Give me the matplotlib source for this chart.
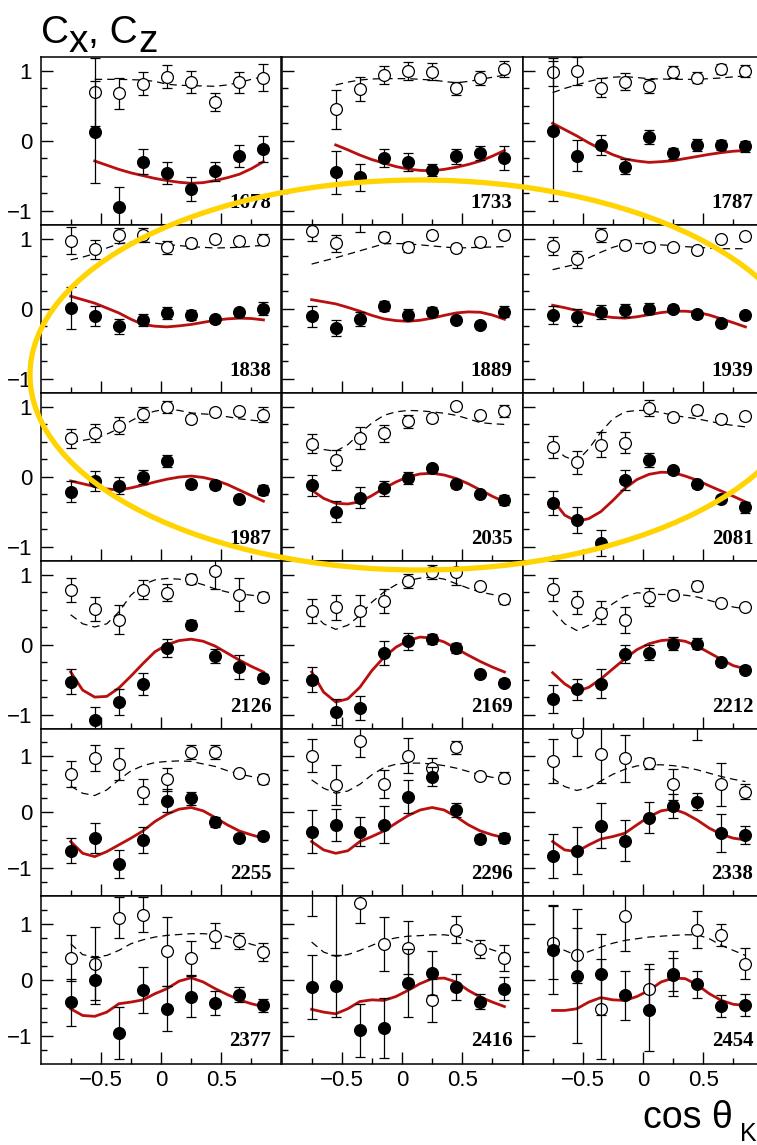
import numpy as np
import matplotlib.pyplot as plt
from matplotlib.patches import Ellipse

plt.rcParams['font.family'] = ['Liberation Sans', 'DejaVu Sans']

nan = np.nan

# W (MeV) of each panel, row by row
energies = [1678, 1733, 1787, 1838, 1889, 1939, 1987, 2035, 2081,
            2126, 2169, 2212, 2255, 2296, 2338, 2377, 2416, 2454]

# cos theta_K bins of the data and the points where the model curves were read
cos_k = [-0.75, -0.55, -0.35, -0.15, 0.05, 0.25, 0.45, 0.65, 0.85]
cos_fine = [-0.75, -0.65, -0.55, -0.45, -0.35, -0.25, -0.15, -0.05, 0.05,
            0.15, 0.25, 0.35, 0.45, 0.55, 0.65, 0.75, 0.85]

# Cz (open circles)
cz_val = [
    [nan, 0.70, 0.68, 0.82, 0.92, 0.845, 0.56, 0.835, 0.905],
    [nan, 0.45, 0.74, 0.94, 1.0, 0.99, 0.75, 0.90, 1.03],
    [0.99, 1.0, 0.76, 0.845, 0.78, 0.99, 0.905, 1.03, 1.0],
    [0.975, 0.85, 1.05, 1.06, 0.88, 0.94, 1.0, 0.975, 0.99],
    [1.11, 0.94, 1.3, 1.03, 0.88, 1.06, 0.87, 0.95, 1.06],
    [0.905, 0.71, 1.06, 0.92, 0.89, 0.88, 0.84, 1.0, 1.04],
    [0.55, 0.63, 0.73, 0.895, 1.0, 0.825, 0.93, 0.94, 0.89],
    [0.475, 0.24, 0.555, 0.62, 0.795, 0.84, 1.01, 0.88, 0.94],
    [0.43, 0.205, 0.46, 0.49, 0.985, 0.855, 0.95, 0.83, 0.87],
    [0.78, 0.51, 0.36, 0.79, 0.745, 0.94, 1.06, 0.72, 0.69],
    [0.48, 0.54, 0.49, 0.625, 0.91, 1.04, 1.04, 0.84, 0.65],
    [0.795, 0.61, 0.46, 0.35, 0.685, 0.72, 0.84, 0.60, 0.54],
    [0.68, 0.97, 0.865, 0.37, 0.59, 1.085, 1.075, 0.70, 0.59],
    [1.015, 0.49, 1.28, 0.51, 1.015, 0.79, 1.16, 0.65, 0.62],
    [0.92, 1.43, 1.04, 0.97, 0.88, 0.5, 1.7, 0.5, 0.37],
    [0.39, 0.29, 1.11, 1.165, 0.51, 0.39, 0.79, 0.69, 0.495],
    [1.65, 1.6, 1.38, 0.645, 0.575, -0.37, 0.895, 0.555, 0.39],
    [0.665, 0.435, -0.52, 1.135, -0.16, 0.11, 0.9, 0.805, 0.285],
]
cz_err = [
    [nan, 0.49, 0.22, 0.17, 0.165, 0.16, 0.13, 0.15, 0.19],
    [nan, 0.28, 0.17, 0.13, 0.13, 0.12, 0.09, 0.10, 0.11],
    [0.2, 0.2, 0.14, 0.12, 0.10, 0.085, 0.08, 0.07, 0.09],
    [0.19, 0.14, 0.11, 0.10, 0.09, 0.065, 0.05, 0.05, 0.08],
    [0.14, 0.12, 0.2, 0.065, 0.07, 0.06, 0.06, 0.05, 0.065],
    [0.13, 0.12, 0.10, 0.07, 0.06, 0.05, 0.05, 0.04, 0.05],
    [0.14, 0.125, 0.12, 0.105, 0.08, 0.05, 0.04, 0.04, 0.105],
    [0.14, 0.14, 0.16, 0.115, 0.095, 0.05, 0.04, 0.045, 0.085],
    [0.16, 0.16, 0.18, 0.145, 0.11, 0.06, 0.06, 0.06, 0.05],
    [0.17, 0.17, 0.21, 0.14, 0.125, 0.07, 0.26, 0.23, 0.06],
    [0.17, 0.18, 0.22, 0.17, 0.10, 0.10, 0.18, 0.05, 0.065],
    [0.165, 0.165, 0.16, 0.185, 0.125, 0.06, 0.07, 0.04, 0.04],
    [0.23, 0.235, 0.28, 0.225, 0.21, 0.125, 0.13, 0.04, 0.09],
    [0.29, 0.365, 0.29, 0.255, 0.31, 0.18, 0.115, 0.06, 0.10],
    [0.4, 0.43, 0.52, 0.42, 0.10, 0.28, 0.4, 0.38, 0.14],
    [0.415, 0.66, 0.37, 0.31, 0.62, 0.3, 0.225, 0.14, 0.16],
    [0.5, 1.15, 0.36, 0.48, 0.47, 0.39, 0.24, 0.16, 0.24],
    [0.65, 0.5, 0.9, 0.62, 0.44, 0.4, 0.33, 0.2, 0.28],
]

# Cx (filled circles)
cx_val = [
    [nan, 0.12, -0.955, -0.30, -0.46, -0.69, -0.44, -0.215, -0.12],
    [nan, -0.45, -0.525, -0.25, -0.30, -0.42, -0.225, -0.18, -0.25],
    [0.14, -0.215, -0.06, -0.37, 0.05, -0.18, -0.06, -0.06, -0.08],
    [0.01, -0.105, -0.25, -0.165, -0.06, -0.095, -0.15, -0.05, 0.0],
    [-0.11, -0.275, -0.15, 0.04, -0.085, -0.04, -0.155, -0.23, -0.04],
    [-0.095, -0.12, -0.05, -0.025, 0.0, 0.0, -0.08, -0.2, -0.095],
    [-0.215, -0.06, -0.13, 0.0, 0.225, -0.105, -0.12, -0.32, -0.19],
    [-0.12, -0.5, -0.3, -0.165, -0.015, 0.12, -0.105, -0.24, -0.335],
    [-0.38, -0.62, -0.95, -0.05, 0.24, 0.095, -0.105, -0.325, -0.44],
    [-0.53, -1.085, -0.82, -0.56, -0.045, 0.29, -0.155, -0.32, -0.475],
    [-0.5, -0.965, -0.905, -0.12, 0.05, 0.085, -0.05, -0.425, -0.545],
    [-0.775, -0.64, -0.56, -0.13, -0.115, 0.015, 0.015, -0.24, -0.36],
    [-0.69, -0.455, -0.93, -0.495, 0.21, 0.25, -0.18, -0.455, -0.425],
    [-0.345, -0.225, -0.345, -0.225, 0.28, 0.64, 0.04, -0.48, -0.455],
    [-0.78, -0.69, -0.24, -0.51, -0.095, 0.11, 0.19, -0.375, -0.405],
    [-0.40, -0.01, -0.95, -0.19, -0.52, -0.30, -0.42, -0.27, -0.46],
    [-0.13, -0.115, -0.905, -0.865, -0.06, 0.12, -0.13, -0.39, -0.16],
    [0.54, 0.06, 0.095, -0.28, -0.54, 0.09, -0.085, -0.47, -0.45],
]
cx_err = [
    [nan, 0.73, 0.29, 0.18, 0.16, 0.17, 0.14, 0.155, 0.19],
    [nan, 0.31, 0.19, 0.13, 0.13, 0.08, 0.11, 0.10, 0.17],
    [1.0, 0.22, 0.14, 0.11, 0.10, 0.08, 0.08, 0.07, 0.08],
    [0.30, 0.14, 0.11, 0.085, 0.08, 0.07, 0.05, 0.05, 0.09],
    [0.15, 0.11, 0.10, 0.075, 0.075, 0.06, 0.04, 0.04, 0.08],
    [0.13, 0.12, 0.10, 0.09, 0.08, 0.05, 0.05, 0.04, 0.05],
    [0.15, 0.14, 0.12, 0.10, 0.08, 0.05, 0.06, 0.04, 0.075],
    [0.15, 0.15, 0.15, 0.11, 0.09, 0.05, 0.05, 0.04, 0.075],
    [0.17, 0.19, 0.18, 0.14, 0.10, 0.05, 0.05, 0.04, 0.08],
    [0.18, 0.19, 0.19, 0.16, 0.13, 0.065, 0.10, 0.17, 0.055],
    [0.18, 0.19, 0.17, 0.17, 0.12, 0.07, 0.07, 0.04, 0.05],
    [0.2, 0.15, 0.21, 0.13, 0.11, 0.095, 0.08, 0.04, 0.05],
    [0.225, 0.27, 0.255, 0.23, 0.205, 0.12, 0.09, 0.04, 0.07],
    [0.38, 0.29, 0.26, 0.33, 0.30, 0.165, 0.12, 0.075, 0.09],
    [0.39, 0.42, 0.40, 0.37, 0.28, 0.22, 0.15, 0.34, 0.155],
    [0.42, 0.42, 0.47, 0.41, 0.40, 0.36, 0.22, 0.135, 0.12],
    [0.57, 0.55, 0.47, 0.54, 0.61, 0.4, 0.24, 0.13, 0.21],
    [0.8, 1.2, 0.73, 0.44, 0.73, 0.3, 0.24, 0.2, 0.2],
]

# model curves (dashed: Cz, red: Cx)
cz_model = [
    [nan, nan, 0.88, 0.88, 0.88, 0.875, 0.87, 0.85, 0.81, 0.795, 0.79, 0.785, 0.78, 0.80, 0.835, 0.88, 0.92],
    [nan, nan, 0.80, 0.84, 0.87, 0.885, 0.89, 0.89, 0.89, 0.88, 0.87, 0.85, 0.83, 0.85, 0.88, 0.91, 0.94],
    [0.69, 0.75, 0.80, 0.85, 0.89, 0.91, 0.92, 0.905, 0.89, 0.885, 0.88, 0.88, 0.88, 0.89, 0.90, 0.915, 0.93],
    [0.70, 0.74, 0.79, 0.87, 0.93, 0.955, 0.96, 0.94, 0.92, 0.905, 0.89, 0.88, 0.87, 0.875, 0.88, 0.895, 0.91],
    [0.64, 0.685, 0.73, 0.78, 0.83, 0.88, 0.93, 0.935, 0.93, 0.915, 0.90, 0.885, 0.87, 0.875, 0.88, 0.885, 0.89],
    [0.56, 0.60, 0.64, 0.73, 0.81, 0.88, 0.93, 0.935, 0.93, 0.915, 0.905, 0.89, 0.88, 0.87, 0.86, 0.86, 0.86],
    [0.49, 0.52, 0.55, 0.61, 0.69, 0.80, 0.89, 0.94, 0.97, 0.95, 0.915, 0.90, 0.89, 0.86, 0.83, 0.81, 0.795],
    [0.44, 0.39, 0.365, 0.46, 0.62, 0.77, 0.88, 0.93, 0.95, 0.945, 0.93, 0.91, 0.88, 0.83, 0.775, 0.76, 0.75],
    [0.43, 0.29, 0.22, 0.40, 0.64, 0.83, 0.93, 0.95, 0.95, 0.92, 0.88, 0.855, 0.83, 0.795, 0.76, 0.735, 0.715],
    [0.43, 0.30, 0.255, 0.30, 0.47, 0.71, 0.86, 0.93, 0.95, 0.94, 0.91, 0.86, 0.80, 0.755, 0.73, 0.71, 0.69],
    [0.47, 0.30, 0.22, 0.28, 0.42, 0.61, 0.755, 0.86, 0.92, 0.955, 0.97, 0.94, 0.875, 0.81, 0.755, 0.72, 0.685],
    [0.49, 0.30, 0.205, 0.28, 0.445, 0.59, 0.695, 0.745, 0.73, 0.72, 0.72, 0.71, 0.685, 0.635, 0.59, 0.54, 0.515],
    [0.47, 0.34, 0.30, 0.40, 0.58, 0.74, 0.835, 0.89, 0.91, 0.92, 0.91, 0.865, 0.82, 0.745, 0.685, 0.64, 0.61],
    [0.58, 0.43, 0.34, 0.38, 0.50, 0.67, 0.80, 0.86, 0.88, 0.88, 0.865, 0.835, 0.79, 0.73, 0.67, 0.625, 0.60],
    [0.61, 0.46, 0.39, 0.44, 0.56, 0.68, 0.77, 0.83, 0.85, 0.85, 0.835, 0.805, 0.76, 0.70, 0.64, 0.59, 0.55],
    [0.645, 0.45, 0.41, 0.435, 0.525, 0.645, 0.715, 0.765, 0.795, 0.81, 0.825, 0.825, 0.81, 0.775, 0.705, 0.635, 0.575],
    [0.675, 0.495, 0.42, 0.45, 0.525, 0.615, 0.705, 0.75, 0.78, 0.79, 0.805, 0.805, 0.78, 0.705, 0.615, 0.535, 0.465],
    [0.645, 0.525, 0.435, 0.505, 0.585, 0.655, 0.705, 0.735, 0.765, 0.78, 0.795, 0.805, 0.805, 0.735, 0.615, 0.525, 0.435],
]
cx_model = [
    [nan, nan, -0.29, -0.35, -0.41, -0.46, -0.50, -0.54, -0.57, -0.595, -0.61, -0.60, -0.57, -0.53, -0.48, -0.40, -0.30],
    [nan, nan, -0.06, -0.13, -0.205, -0.27, -0.32, -0.37, -0.405, -0.425, -0.43, -0.41, -0.38, -0.34, -0.29, -0.22, -0.14],
    [0.25, 0.16, 0.07, -0.03, -0.12, -0.20, -0.26, -0.29, -0.31, -0.30, -0.285, -0.255, -0.225, -0.195, -0.17, -0.15, -0.14],
    [0.18, 0.13, 0.08, 0.01, -0.06, -0.15, -0.225, -0.25, -0.26, -0.245, -0.225, -0.195, -0.165, -0.145, -0.135, -0.14, -0.16],
    [0.13, 0.10, 0.07, 0.02, -0.035, -0.095, -0.145, -0.17, -0.18, -0.165, -0.135, -0.095, -0.06, -0.045, -0.05, -0.09, -0.15],
    [0.05, 0.015, -0.025, -0.07, -0.105, -0.125, -0.135, -0.115, -0.085, -0.055, -0.035, -0.035, -0.05, -0.09, -0.145, -0.20, -0.26],
    [-0.06, -0.10, -0.14, -0.175, -0.19, -0.16, -0.12, -0.075, -0.035, -0.005, 0.01, -0.01, -0.05, -0.11, -0.19, -0.27, -0.35],
    [-0.19, -0.31, -0.38, -0.39, -0.36, -0.27, -0.165, -0.075, 0.0, 0.04, 0.05, 0.025, -0.025, -0.10, -0.19, -0.28, -0.36],
    [-0.33, -0.55, -0.64, -0.60, -0.50, -0.34, -0.165, -0.04, 0.035, 0.065, 0.06, 0.01, -0.05, -0.13, -0.205, -0.28, -0.36],
    [-0.39, -0.65, -0.75, -0.74, -0.62, -0.45, -0.27, -0.10, 0.0, 0.06, 0.08, 0.05, -0.02, -0.12, -0.22, -0.31, -0.39],
    [-0.39, -0.68, -0.82, -0.775, -0.61, -0.37, -0.18, -0.035, 0.06, 0.11, 0.095, 0.04, -0.055, -0.15, -0.24, -0.32, -0.39],
    [-0.40, -0.56, -0.67, -0.61, -0.49, -0.345, -0.20, -0.07, 0.015, 0.06, 0.075, 0.05, -0.02, -0.115, -0.21, -0.30, -0.345],
    [-0.525, -0.735, -0.795, -0.705, -0.585, -0.465, -0.335, -0.165, -0.035, 0.055, 0.085, 0.025, -0.095, -0.225, -0.335, -0.405, -0.465],
    [-0.525, -0.675, -0.735, -0.69, -0.525, -0.435, -0.335, -0.195, -0.06, 0.04, 0.085, 0.04, -0.08, -0.225, -0.335, -0.405, -0.455],
    [-0.525, -0.675, -0.705, -0.585, -0.48, -0.435, -0.375, -0.225, -0.08, 0.025, 0.06, -0.02, -0.14, -0.285, -0.395, -0.465, -0.495],
    [-0.52, -0.64, -0.655, -0.58, -0.43, -0.40, -0.36, -0.25, -0.16, -0.025, 0.035, -0.04, -0.16, -0.265, -0.36, -0.43, -0.48],
    [-0.53, -0.58, -0.61, -0.52, -0.39, -0.36, -0.37, -0.30, -0.19, -0.07, 0.02, 0.03, -0.04, -0.19, -0.31, -0.40, -0.48],
    [-0.55, -0.55, -0.52, -0.40, -0.32, -0.36, -0.37, -0.30, -0.19, -0.04, 0.03, 0.02, -0.09, -0.25, -0.37, -0.44, -0.46],
]

y_half = [1.2] * 12 + [1.5] * 6   # y range of each panel is +-y_half

W, H = 757, 1145
fig = plt.figure(figsize=(W / 100, H / 100), dpi=100)

def fx(x):
    return x / W

def fy(y):
    return 1 - y / H

col_left = [40.5, 281.5, 522.5]
col_w = 241
row_top = [57, 225, 393, 561, 728.5, 896]
row_h = 167.5

for i, E in enumerate(energies):
    r, c = divmod(i, 3)
    ax = fig.add_axes([fx(col_left[c]), fy(row_top[r] + row_h), col_w / W, row_h / H])

    ax.plot(cos_fine, cz_model[i], color='black', lw=0.9, dashes=(6, 4), zorder=2)
    ax.plot(cos_fine, cx_model[i], color='#b80f0f', lw=2.0, zorder=2)

    ax.errorbar(cos_k, cz_val[i], yerr=cz_err[i], fmt='o', ms=8.5, mfc='white', mec='black',
                mew=0.9, ecolor='black', elinewidth=0.9, capsize=3.5, capthick=0.9, zorder=3)
    ax.errorbar(cos_k, cx_val[i], yerr=cx_err[i], fmt='o', ms=8.5, mfc='black', mec='black',
                mew=0.9, ecolor='black', elinewidth=0.9, capsize=3.5, capthick=0.9, zorder=4)

    yh = y_half[i]
    ax.set_xlim(-1, 1)
    ax.set_ylim(-yh, yh)
    ax.set_xticks([-0.5, 0, 0.5])
    ax.set_xticks([-0.75, -0.25, 0.25, 0.75], minor=True)
    ax.set_yticks([-1, 0, 1])
    ax.set_yticks([v for v in np.arange(-1.25, 1.3, 0.25) if abs(v) < yh and abs(v) % 1 != 0], minor=True)
    ax.set_xticklabels(['\u22120.5', '0', '0.5'])
    ax.set_yticklabels(['\u22121', '0', '1'])
    ax.tick_params(which='both', direction='in', top=False, right=False, width=1.0, labelsize=16)
    ax.tick_params(which='major', length=8.5)
    ax.tick_params(which='minor', length=4.5)
    ax.tick_params(axis='x', pad=5)
    ax.tick_params(axis='y', pad=6)
    if r != 5:
        ax.tick_params(axis='x', labelbottom=False)
    if c != 0:
        ax.tick_params(axis='y', labelleft=False)
    for s in ax.spines.values():
        s.set_linewidth(1.1)

    ax.text(1 - 10 / col_w, 17 / row_h, str(E), transform=ax.transAxes, ha='right', va='baseline',
            family='Liberation Serif', weight='bold', size=15)

# axis titles
fig.text(fx(41), fy(43), 'C', size=28, va='baseline')
fig.text(fx(69), fy(52), 'x', size=28, va='baseline')
fig.text(fx(88.5), fy(43), ', C', size=28, va='baseline')
fig.text(fx(138), fy(52), 'z', size=28, va='baseline')
fig.text(fx(643), fy(1128), 'cos \u03b8', size=27, va='baseline')
fig.text(fx(740), fy(1141), 'K', size=18, va='baseline')

# yellow highlight ellipse
ell = Ellipse((fx(420), fy(375)), 780 / W, 390 / H, transform=fig.transFigure,
              fill=False, edgecolor='#FFD400', lw=3.8, zorder=10)
fig.add_artist(ell)

fig.savefig('out.png', dpi=100)
